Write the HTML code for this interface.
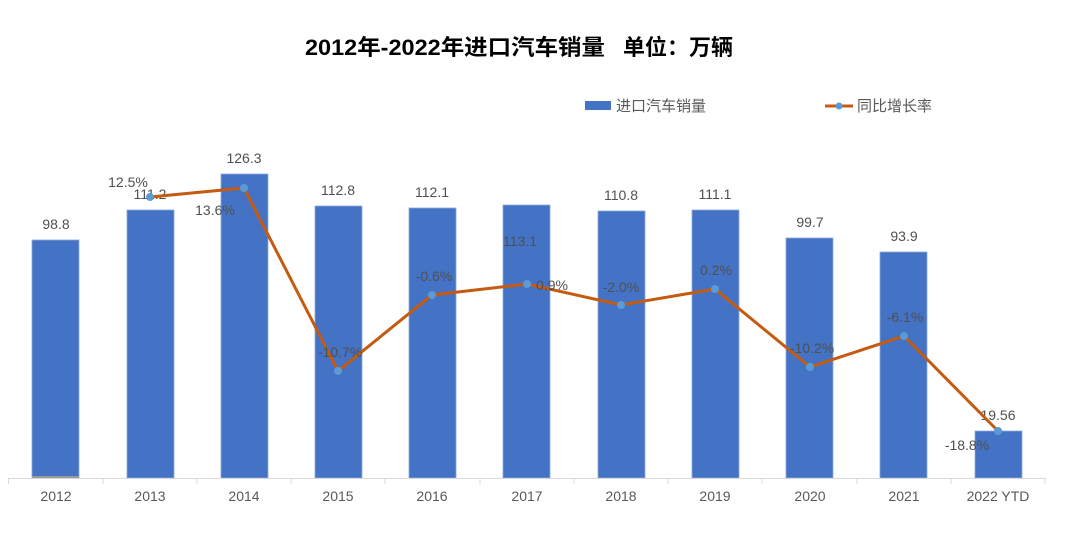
<!DOCTYPE html>
<html><head><meta charset="utf-8"><style>
body{margin:0;background:#fff;}
svg text{font-family:"Liberation Sans","Noto Sans CJK SC",sans-serif;}
</style></head><body>
<svg width="1070" height="532" xmlns="http://www.w3.org/2000/svg">
<rect width="1070" height="532" fill="#fff"/>
<text x="305" y="55" font-size="22" font-weight="bold" fill="#000" textLength="300" lengthAdjust="spacingAndGlyphs">2012年-2022年进口汽车销量</text>
<text x="733" y="55" text-anchor="end" font-size="22" font-weight="bold" fill="#000">单位：万辆</text>
<rect x="585" y="101" width="26" height="9" fill="#4472C4"/>
<text x="616" y="111" font-size="15" fill="#595959">进口汽车销量</text>
<line x1="825" y1="106" x2="853" y2="106" stroke="#C55A11" stroke-width="3"/>
<circle cx="839" cy="106" r="3.5" fill="#5B9BD5"/>
<text x="857" y="111" font-size="15" fill="#595959">同比增长率</text>
<g fill="#4472C4" stroke="#8FAADC" stroke-width="0.8">
<rect x="32" y="240" width="47" height="238"/>
<rect x="127" y="210" width="47" height="268"/>
<rect x="221" y="174" width="47" height="304"/>
<rect x="315" y="206" width="47" height="272"/>
<rect x="409" y="208" width="47" height="270"/>
<rect x="503" y="205" width="47" height="273"/>
<rect x="598" y="211" width="47" height="267"/>
<rect x="692" y="210" width="47" height="268"/>
<rect x="786" y="238" width="47" height="240"/>
<rect x="880" y="252" width="47" height="226"/>
<rect x="975" y="431" width="47" height="47"/>
</g>
<rect x="32" y="476" width="47" height="2" fill="#999"/>
<line x1="8" y1="478.5" x2="1045" y2="478.5" stroke="#d9d9d9" stroke-width="1"/>
<g stroke="#d9d9d9">
<line x1="8.5" y1="478" x2="8.5" y2="484"/><line x1="103" y1="478" x2="103" y2="484"/><line x1="197" y1="478" x2="197" y2="484"/><line x1="291" y1="478" x2="291" y2="484"/><line x1="385" y1="478" x2="385" y2="484"/><line x1="480" y1="478" x2="480" y2="484"/><line x1="574" y1="478" x2="574" y2="484"/><line x1="668" y1="478" x2="668" y2="484"/><line x1="762" y1="478" x2="762" y2="484"/><line x1="857" y1="478" x2="857" y2="484"/><line x1="951" y1="478" x2="951" y2="484"/><line x1="1045" y1="478" x2="1045" y2="484"/>
</g>
<g font-size="14" fill="#595959" text-anchor="middle">
<text x="56" y="501">2012</text><text x="150" y="501">2013</text><text x="244" y="501">2014</text><text x="338" y="501">2015</text><text x="432" y="501">2016</text><text x="527" y="501">2017</text><text x="621" y="501">2018</text><text x="715" y="501">2019</text><text x="810" y="501">2020</text><text x="904" y="501">2021</text><text x="998" y="501">2022 YTD</text>
</g>
<g font-size="14" fill="#505050" text-anchor="middle">
<text x="56" y="229">98.8</text><text x="150" y="199">111.2</text><text x="244" y="163">126.3</text><text x="338" y="195">112.8</text><text x="432" y="197">112.1</text><text x="520" y="246">113.1</text><text x="621" y="200">110.8</text><text x="715" y="199">111.1</text><text x="810" y="227">99.7</text><text x="904" y="241">93.9</text><text x="998" y="420">19.56</text>
</g>
<polyline points="150,197 244,188 338,371 432,295 527,284 621,305 715,289 810,367 904,336 998,431" fill="none" stroke="#C55A11" stroke-width="3"/>
<g fill="#5B9BD5">
<circle cx="150" cy="197" r="4"/><circle cx="244" cy="188" r="4"/><circle cx="338" cy="371" r="4"/><circle cx="432" cy="295" r="4"/><circle cx="527" cy="284" r="4"/><circle cx="621" cy="305" r="4"/><circle cx="715" cy="289" r="4"/><circle cx="810" cy="367" r="4"/><circle cx="904" cy="336" r="4"/><circle cx="998" cy="431" r="4"/>
</g>
<g font-size="14" fill="#505050" text-anchor="middle">
<text x="128" y="187">12.5%</text><text x="215" y="215">13.6%</text><text x="340" y="357">-10.7%</text><text x="434" y="281">-0.6%</text><text x="552" y="290">0.9%</text><text x="621" y="292">-2.0%</text><text x="716" y="275">0.2%</text><text x="812" y="353">-10.2%</text><text x="905" y="322">-6.1%</text><text x="967" y="450">-18.8%</text>
</g>
</svg>
</body></html>
